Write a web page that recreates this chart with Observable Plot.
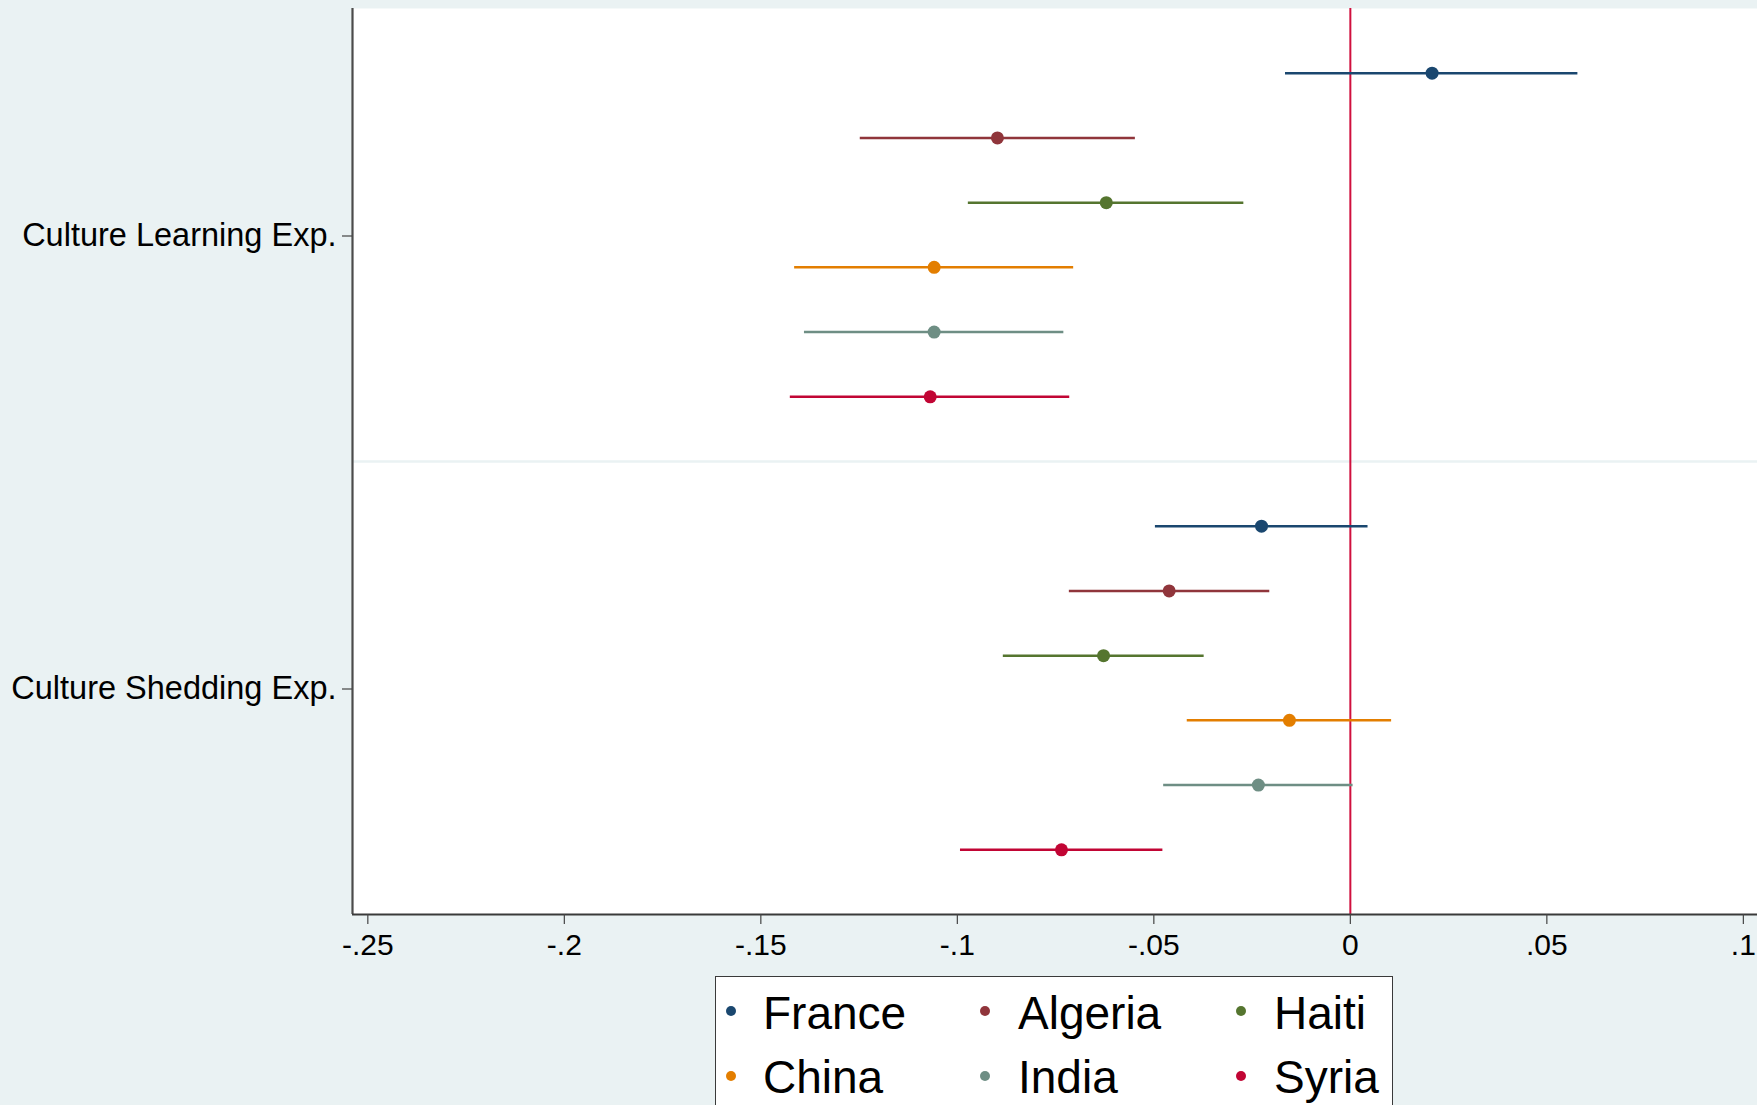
<!DOCTYPE html>
<html>
<head>
<meta charset="utf-8">
<script src="https://cdn.jsdelivr.net/npm/d3@7"></script>
<script src="https://cdn.jsdelivr.net/npm/@observablehq/plot@0.6"></script>
<style>
  html, body { margin: 0; padding: 0; }
  body { width: 1757px; height: 1105px; overflow: hidden; position: relative; background: #EAF2F3;
         font-family: "Liberation Sans", Arial, Helvetica, sans-serif; }
  #chart { position: absolute; left: 0; top: 0; }
  #legend { position: absolute; left: 715px; top: 976px; width: 678px; height: 200px;
            background: #ffffff; border: 1.5px solid #3a3a3a; box-sizing: border-box; }
  .li-dot { position: absolute; width: 10px; height: 10px; border-radius: 50%; }
  .li-txt { position: absolute; font-size: 46px; line-height: 46px; color: #000; white-space: nowrap; }
</style>
</head>
<body>
<div id="chart"></div>
<div id="legend"></div>
<script>
// ---- data ----
const countries = ["France", "Algeria", "Haiti", "China", "India", "Syria"];
const colors = ["#1a476f", "#90353b", "#55752f", "#e37e00", "#6e8e84", "#c10534"];
const groups = ["Culture Learning Exp.", "Culture Shedding Exp."];

const learnEst = [0.0208, -0.0898, -0.0621, -0.1059, -0.1059, -0.1069];
const learnLo  = [-0.0165, -0.1247, -0.0972, -0.1414, -0.1389, -0.1425];
const learnHi  = [0.0579, -0.0547, -0.0271, -0.0704, -0.0729, -0.0714];

const shedEst = [-0.0226, -0.0461, -0.0628, -0.0155, -0.0234, -0.0735];
const shedLo  = [-0.0496, -0.0715, -0.0883, -0.0415, -0.0475, -0.0992];
const shedHi  = [0.0045, -0.0205, -0.0372, 0.0105, 0.0007, -0.0477];

const xTicks = [-0.25, -0.2, -0.15, -0.1, -0.05, 0, 0.05, 0.1];
const xTickLabels = ["-.25", "-.2", "-.15", "-.1", "-.05", "0", ".05", ".1"];

// ---- build table ----
const estimates = [learnEst, shedEst];
const lows = [learnLo, shedLo];
const highs = [learnHi, shedHi];
const perGroup = countries.length + 1;
const rows = [];
groups.forEach((g, gi) => {
  countries.forEach((c, ci) => {
    rows.push({group: g, country: c, pos: gi * perGroup + ci,
               est: estimates[gi][ci], lo: lows[gi][ci], hi: highs[gi][ci]});
  });
});
const groupCenters = groups.map((g, gi) => gi * perGroup + (countries.length - 1) / 2);
const separators = groups.slice(1).map((g, gi) => (gi + 1) * perGroup - 1);
const yDomain = [-1, groups.length * perGroup - 1];
const xDomain = [-0.2539, 0.1036];

const font = "'Liberation Sans', Arial, Helvetica, sans-serif";

const chart = Plot.plot({
  width: 1757,
  height: 970,
  marginLeft: 352,
  marginRight: 0,
  marginTop: 8,
  marginBottom: 56,
  style: {background: "transparent", fontFamily: font, color: "#000"},
  x: {domain: xDomain},
  y: {domain: yDomain, reverse: true},
  color: {domain: countries, range: colors},
  marks: [
    Plot.frame({fill: "#ffffff", stroke: null}),
    Plot.ruleY(separators, {stroke: "#EAF2F3", strokeWidth: 2.5}),
    Plot.ruleX([0], {stroke: "#d0103e", strokeWidth: 2}),
    Plot.ruleY(rows, {y: "pos", x1: "lo", x2: "hi", stroke: "country", strokeWidth: 2.5}),
    Plot.dot(rows, {x: "est", y: "pos", fill: "country", r: 6.5, stroke: null}),
    Plot.ruleX([xDomain[0]], {stroke: "#4b4b4b", strokeWidth: 2.2}),
    Plot.ruleY([yDomain[1]], {stroke: "#3a3a3a", strokeWidth: 2}),
    Plot.axisX({ticks: xTicks, tickFormat: (d) => xTickLabels[xTicks.indexOf(d)],
                tickSize: 10, tickPadding: 9, fontSize: 30, stroke: "#444", strokeWidth: 1.2,
                label: null, fill: "#000"}),
    Plot.axisY({ticks: groupCenters, tickFormat: (d) => groups[groupCenters.indexOf(d)],
                tickSize: 10, tickPadding: 6, fontSize: 32.5, stroke: "#444", strokeWidth: 1.2,
                label: null, fill: "#000", dy: 1})
  ]
});
document.getElementById("chart").appendChild(chart);

// ---- legend (HTML, below the chart) ----
const legend = document.getElementById("legend");
const colDot = [15, 269, 525];
const colTxt = [47, 302, 558];
const rowDot = [34, 99];
const rowTop = [13, 77];
countries.forEach((c, i) => {
  const col = i % 3, row = Math.floor(i / 3);
  const dot = document.createElement("div");
  dot.className = "li-dot";
  dot.style.left = (colDot[col] - 5) + "px";
  dot.style.top = (rowDot[row] - 5) + "px";
  dot.style.background = colors[i];
  legend.appendChild(dot);
  const t = document.createElement("div");
  t.className = "li-txt";
  t.style.left = colTxt[col] + "px";
  t.style.top = rowTop[row] + "px";
  t.textContent = c;
  legend.appendChild(t);
});
</script>
</body>
</html>
